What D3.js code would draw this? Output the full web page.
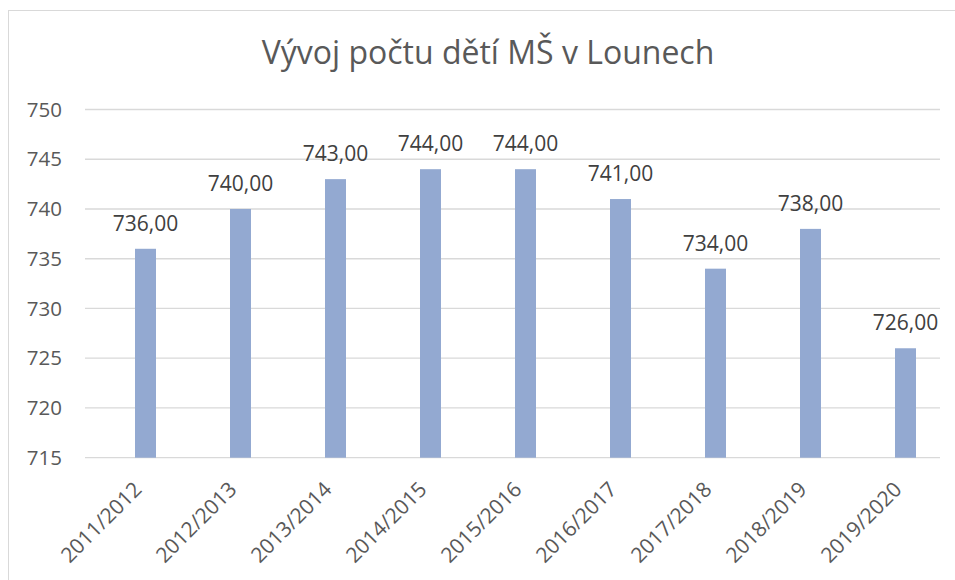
<!DOCTYPE html>
<html>
<head>
<meta charset="utf-8">
<script src="https://cdn.jsdelivr.net/npm/d3@7"></script>
<style>
  body { margin: 0; background: #fff; }
  text { font-family: "Open Sans", "Noto Sans", sans-serif; }
</style>
</head>
<body>
<svg id="chart"></svg>
<script>
const title = 'Vývoj počtu dětí MŠ v Lounech';
const years = ['2011/2012', '2012/2013', '2013/2014', '2014/2015', '2015/2016',
               '2016/2017', '2017/2018', '2018/2019', '2019/2020'];
const children = [736, 740, 743, 744, 744, 741, 734, 738, 726];
const yTicks = [715, 720, 725, 730, 735, 740, 745, 750];

const width = 955, height = 580;
const plot = {left: 85, right: 940, top: 109.5, bottom: 457.7};

const svg = d3.select('#chart')
    .attr('width', width)
    .attr('height', height);

// chart frame (runs off the right and bottom edge)
svg.append('rect')
    .attr('x', 8.5).attr('y', 10.5)
    .attr('width', 960).attr('height', 590)
    .attr('fill', '#fff')
    .attr('stroke', '#d9d9d9');

const xscale = d3.scalePoint()
    .domain(years)
    .range([98, 953])
    .padding(0.5);

const yscale = d3.scaleLinear()
    .domain([715, 750])
    .range([plot.bottom, plot.top]);

// gridlines
svg.append('g').selectAll('line').data(yTicks).enter()
    .append('line')
    .attr('x1', plot.left).attr('x2', plot.right)
    .attr('y1', d => yscale(d)).attr('y2', d => yscale(d))
    .attr('stroke', '#d9d9d9')
    .attr('stroke-width', 1.3);

// y axis labels
const yaxis = d3.axisLeft(yscale).tickValues(yTicks).tickSize(0).tickPadding(0);
svg.append('g')
    .attr('transform', `translate(62, 0)`)
    .call(yaxis)
    .call(g => g.select('.domain').remove())
    .selectAll('text')
    .attr('font-family', '"Open Sans", sans-serif')
    .attr('font-size', 20.5)
    .attr('fill', '#595959');

const barw = 21;
svg.append('g').selectAll('rect').data(children).enter()
    .append('rect')
    .attr('x', (d, i) => xscale(years[i]) - barw / 2)
    .attr('y', d => yscale(d))
    .attr('width', barw)
    .attr('height', d => plot.bottom - yscale(d))
    .attr('fill', '#93a9d1');

// data labels
svg.append('g').selectAll('text').data(children).enter()
    .append('text')
    .attr('x', (d, i) => xscale(years[i]))
    .attr('y', d => yscale(d) - 18)
    .attr('text-anchor', 'middle')
    .attr('font-size', 21)
    .attr('fill', '#404040')
    .text(d => d.toFixed(2).replace('.', ','));

// x axis labels
const xaxis = d3.axisBottom(xscale).tickSize(0).tickPadding(0);
svg.append('g')
    .attr('transform', `translate(0, ${plot.bottom})`)
    .call(xaxis)
    .call(g => g.select('.domain').remove())
    .selectAll('text')
    .attr('font-family', '"Open Sans", sans-serif')
    .attr('font-size', 21)
    .attr('fill', '#595959')
    .attr('text-anchor', 'end')
    .attr('dy', 0)
    .attr('transform', 'translate(-3, 33) rotate(-45)');

svg.append('text')
    .attr('x', 488)
    .attr('y', 64)
    .attr('text-anchor', 'middle')
    .attr('font-size', 32)
    .attr('fill', '#595959')
    .text(title);
</script>
</body>
</html>
